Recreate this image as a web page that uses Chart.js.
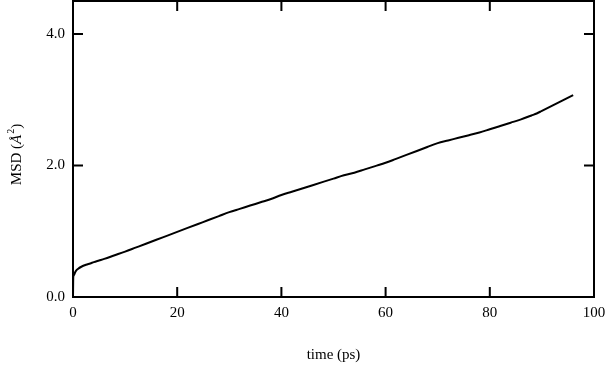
<!DOCTYPE html>
<html>
<head>
<meta charset="utf-8">
<script src="https://cdn.jsdelivr.net/npm/chart.js@4"></script>
<style>
  html, body { margin: 0; padding: 0; background: #fff; }
</style>
</head>
<body>
<canvas id="msdChart" width="605" height="365"></canvas>
<script>
var times = [0, 0.05, 0.15, 0.5, 1, 1.6, 2.5, 3.3, 4, 5, 6, 8, 10, 12, 14, 16, 18, 20, 22, 24, 26, 28, 30,
  32, 34, 36, 38, 40, 42, 44, 46, 48, 50, 52, 54, 56, 58, 60, 62, 64, 66, 68, 70, 72, 74, 76, 78,
  80, 82, 84, 86, 88, 89, 90, 92, 94, 96];
var msd = [0, 0.30, 0.33, 0.39, 0.43, 0.46, 0.49, 0.51, 0.53, 0.555, 0.58, 0.635, 0.69, 0.75, 0.81, 0.87, 0.93, 0.99, 1.05, 1.11, 1.17, 1.23, 1.29,
  1.34, 1.39, 1.44, 1.49, 1.55, 1.60, 1.65, 1.70, 1.75, 1.80, 1.85, 1.89, 1.94, 1.99, 2.04, 2.10, 2.16, 2.22, 2.28, 2.34, 2.38, 2.42, 2.46, 2.50,
  2.55, 2.60, 2.65, 2.70, 2.76, 2.79, 2.83, 2.91, 2.99, 3.07];
var xTicks = [0, 20, 40, 60, 80, 100];
var yTicks = [0, 2, 4];

var serif = '"Liberation Serif", "DejaVu Serif", serif';

// frame, inward ticks on all four sides, and the y title with italic Å
var frameTicks = {
  id: 'frameTicks',
  afterDraw: function(chart) {
    var ctx = chart.ctx, a = chart.chartArea;
    var xs = chart.scales.x, ys = chart.scales.y;
    var len = 10;
    ctx.save();
    ctx.strokeStyle = '#000';
    ctx.lineWidth = 2;
    ctx.strokeRect(a.left, a.top, a.right - a.left, a.bottom - a.top);
    ctx.beginPath();
    xTicks.forEach(function(v) {
      var px = xs.getPixelForValue(v);
      ctx.moveTo(px, a.bottom); ctx.lineTo(px, a.bottom - len);
      ctx.moveTo(px, a.top); ctx.lineTo(px, a.top + len);
    });
    yTicks.forEach(function(v) {
      var py = ys.getPixelForValue(v);
      ctx.moveTo(a.left, py); ctx.lineTo(a.left + len, py);
      ctx.moveTo(a.right, py); ctx.lineTo(a.right - len, py);
    });
    ctx.stroke();

    // y axis title: MSD (Å²)
    var parts = [
      { t: 'MSD (', f: '15px ' + serif, dy: 0 },
      { t: 'Å', f: 'italic 15px ' + serif, dy: 0 },
      { t: '2', f: '10px ' + serif, dy: -7 },
      { t: ')', f: '15px ' + serif, dy: 0 }
    ];
    var total = 0;
    parts.forEach(function(p) { ctx.font = p.f; p.w = ctx.measureText(p.t).width; total += p.w; });
    ctx.translate(21, (a.top + a.bottom) / 2 + 6);
    ctx.rotate(-Math.PI / 2);
    ctx.fillStyle = '#000';
    ctx.textBaseline = 'alphabetic';
    ctx.textAlign = 'left';
    var x = -total / 2;
    parts.forEach(function(p) { ctx.font = p.f; ctx.fillText(p.t, x, p.dy); x += p.w + (p.t === 'Å' ? 1 : 0); });
    ctx.restore();
  }
};

window.onload = function() {
  var ctx = document.getElementById('msdChart').getContext('2d');
  var points = times.map(function(t, i) { return { x: t, y: msd[i] }; });
  new Chart(ctx, {
    type: 'line',
    data: {
      datasets: [{
        data: points,
        borderColor: '#000',
        borderWidth: 2,
        pointRadius: 0,
        cubicInterpolationMode: 'monotone',
        fill: false
      }]
    },
    options: {
      responsive: false,
      animation: false,
      layout: { padding: { top: 1, right: 11, left: 0, bottom: 0 } },
      plugins: { legend: { display: false }, tooltip: { enabled: false } },
      scales: {
        x: {
          type: 'linear',
          min: 0, max: 100,
          afterBuildTicks: function(s) { s.ticks = xTicks.map(function(v) { return { value: v }; }); },
          afterFit: function(s) { s.height = 68; s.paddingLeft = 0; s.paddingRight = 0; },
          grid: { display: false, drawTicks: false },
          border: { display: false },
          ticks: { color: '#000', padding: 7, font: { family: serif, size: 15 }, maxRotation: 0 },
          title: { display: true, text: 'time (ps)', color: '#000', padding: { top: 0, bottom: 1 }, font: { family: serif, size: 15 } }
        },
        y: {
          min: 0, max: 4.5,
          afterBuildTicks: function(s) { s.ticks = yTicks.map(function(v) { return { value: v }; }); },
          afterFit: function(s) { s.width = 73; s.paddingTop = 0; s.paddingBottom = 0; },
          grid: { display: false, drawTicks: false },
          border: { display: false },
          ticks: { color: '#000', padding: 8, font: { family: serif, size: 15 },
            callback: function(v) { return Number(v).toFixed(1); } },
          title: { display: false }
        }
      }
    },
    plugins: [frameTicks]
  });
};
</script>
</body>
</html>
